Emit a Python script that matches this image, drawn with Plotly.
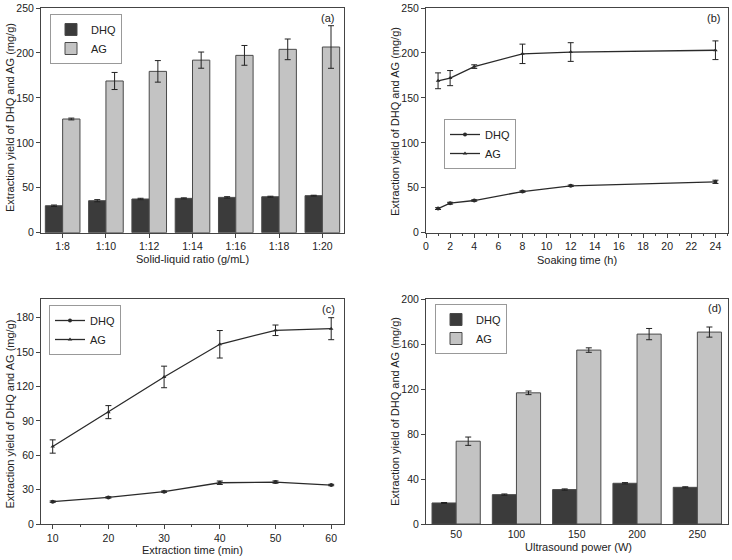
import plotly.graph_objects as go

# ---- data ----
ratio_labels = ["1:8", "1:10", "1:12", "1:14", "1:16", "1:18", "1:20"]
a_dhq = [30.0, 35.6, 37.5, 38.2, 39.3, 40.0, 41.2]
a_dhq_err = [0.8, 1.2, 0.8, 0.6, 0.8, 0.6, 0.5]
a_ag = [126.5, 168.8, 179.5, 192.0, 197.3, 204.0, 206.6]
a_ag_err = [1.0, 9.5, 12.0, 9.0, 11.0, 11.5, 23.7]

soak_time = [1, 2, 4, 8, 12, 24]
b_dhq = [26.8, 32.8, 35.8, 45.8, 52.2, 56.6]
b_dhq_err = [1.0, 1.0, 0.8, 0.8, 0.8, 1.8]
b_ag = [169.0, 172.0, 184.8, 199.0, 201.0, 203.0]
b_ag_err = [8.8, 8.4, 2.0, 10.8, 10.4, 10.4]

ext_time = [10, 20, 30, 40, 50, 60]
c_dhq = [19.5, 23.2, 28.2, 36.0, 36.6, 34.0]
c_dhq_err = [0.6, 0.6, 0.6, 1.5, 1.0, 0.6]
c_ag = [67.6, 97.6, 128.3, 156.8, 169.0, 170.4]
c_ag_err = [5.8, 5.7, 9.4, 12.0, 4.6, 9.6]

power_labels = ["50", "100", "150", "200", "250"]
d_dhq = [18.7, 26.1, 30.6, 36.2, 32.6]
d_dhq_err = [0.4, 0.6, 0.6, 0.6, 0.5]
d_ag = [73.6, 116.6, 154.6, 168.8, 170.6]
d_ag_err = [3.7, 1.6, 2.0, 5.0, 4.5]

y_title = "Extraction yield of DHQ and AG (mg/g)"
x_titles = ["Solid-liquid ratio (g/mL)", "Soaking time (h)", "Extraction time (min)", "Ultrasound power (W)"]
panel_tags = ["(a)", "(b)", "(c)", "(d)"]

DARK = "#3b3b3b"
LIGHT = "#c3c3c3"
EDGE = "#4a4a4a"
LINE = "#2a2a2a"
FONT = "Liberation Sans, Arial, sans-serif"

fig = go.Figure()

def err(vals):
    return dict(type="data", array=vals, visible=True, color="#222", thickness=1, width=3)

# (a) bars
fig.add_trace(go.Bar(x=ratio_labels, y=a_dhq, error_y=err(a_dhq_err), name="DHQ",
                     marker=dict(color=DARK, line=dict(color=EDGE, width=1)),
                     xaxis="x", yaxis="y", legend="legend"))
fig.add_trace(go.Bar(x=ratio_labels, y=a_ag, error_y=err(a_ag_err), name="AG",
                     marker=dict(color=LIGHT, line=dict(color=EDGE, width=1)),
                     xaxis="x", yaxis="y", legend="legend"))

# (b) lines
fig.add_trace(go.Scatter(x=soak_time, y=b_dhq, error_y=err(b_dhq_err), name="DHQ", mode="lines+markers",
                         line=dict(color=LINE, width=1.3), marker=dict(symbol="circle", size=4, color=LINE),
                         xaxis="x2", yaxis="y2", legend="legend2"))
fig.add_trace(go.Scatter(x=soak_time, y=b_ag, error_y=err(b_ag_err), name="AG", mode="lines+markers",
                         line=dict(color=LINE, width=1.3), marker=dict(symbol="triangle-up", size=4, color=LINE),
                         xaxis="x2", yaxis="y2", legend="legend2"))

# (c) lines
fig.add_trace(go.Scatter(x=ext_time, y=c_dhq, error_y=err(c_dhq_err), name="DHQ", mode="lines+markers",
                         line=dict(color=LINE, width=1.3), marker=dict(symbol="circle", size=4, color=LINE),
                         xaxis="x3", yaxis="y3", legend="legend3"))
fig.add_trace(go.Scatter(x=ext_time, y=c_ag, error_y=err(c_ag_err), name="AG", mode="lines+markers",
                         line=dict(color=LINE, width=1.3), marker=dict(symbol="triangle-up", size=4, color=LINE),
                         xaxis="x3", yaxis="y3", legend="legend3"))

# (d) bars
fig.add_trace(go.Bar(x=power_labels, y=d_dhq, error_y=err(d_dhq_err), name="DHQ",
                     marker=dict(color=DARK, line=dict(color=EDGE, width=1)),
                     xaxis="x4", yaxis="y4", legend="legend4"))
fig.add_trace(go.Bar(x=power_labels, y=d_ag, error_y=err(d_ag_err), name="AG",
                     marker=dict(color=LIGHT, line=dict(color=EDGE, width=1)),
                     xaxis="x4", yaxis="y4", legend="legend4"))

W, H = 732, 560
def px_x(p):
    return p / W
def px_y(p):
    return 1 - p / H

ax_common = dict(showline=True, linecolor="#444", linewidth=1, mirror=True,
                 ticks="outside", ticklen=4, tickwidth=1, tickcolor="#444",
                 showgrid=False, zeroline=False, automargin=False,
                 tickfont=dict(family=FONT, size=10.5, color="#222"))
txt_font = dict(family=FONT, size=11, color="#222")

dom_left = [px_x(41), px_x(344)]
dom_right = [px_x(426), px_x(727.5)]
dom_top = [px_y(232.7), px_y(8)]
dom_bot = [px_y(524), px_y(299)]

legend_common = dict(bgcolor="rgba(255,255,255,0)", bordercolor="#999", borderwidth=1,
                     font=dict(family=FONT, size=11, color="#222"),
                     xanchor="left", yanchor="top", tracegroupgap=0, itemwidth=30)

annotations = []
# y titles (rotated)
for (xp, yp) in [(10, 118), (395, 122), (9.5, 414), (395, 412)]:
    annotations.append(dict(text=y_title, textangle=-90, x=px_x(xp), y=px_y(yp),
                            xref="paper", yref="paper", xanchor="center", yanchor="middle",
                            showarrow=False, font=txt_font))
# x titles
for title, (xp, yp) in zip(x_titles, [(192, 259), (577, 260), (192, 550), (578, 547)]):
    annotations.append(dict(text=title, x=px_x(xp), y=px_y(yp), xref="paper", yref="paper",
                            xanchor="center", yanchor="middle", showarrow=False, font=txt_font))
# panel tags
for tag, (xp, yp) in zip(panel_tags, [(327, 18), (713, 18), (328, 309), (714, 308)]):
    annotations.append(dict(text=tag, x=px_x(xp), y=px_y(yp), xref="paper", yref="paper",
                            xanchor="center", yanchor="middle", showarrow=False, font=txt_font))

fig.update_layout(
    width=W, height=H,
    margin=dict(l=0, r=0, t=0, b=0, autoexpand=False),
    paper_bgcolor="white", plot_bgcolor="white",
    barmode="group", bargap=0.2, bargroupgap=0,
    font=dict(family=FONT, color="#222"),
    xaxis=dict(ax_common, domain=dom_left, anchor="y", range=[-0.5, 6.5]),
    yaxis=dict(ax_common, domain=dom_top, anchor="x", range=[0, 250], tickvals=[0, 50, 100, 150, 200, 250]),
    xaxis2=dict(ax_common, domain=dom_right, anchor="y2", range=[0, 25], tickvals=list(range(0, 25, 2)),
                minor=dict(ticks="outside", ticklen=2, dtick=1, tickcolor="#444")),
    yaxis2=dict(ax_common, domain=dom_top, anchor="x2", range=[0, 250], tickvals=[0, 50, 100, 150, 200, 250]),
    xaxis3=dict(ax_common, domain=dom_left, anchor="y3", range=[7.9, 62.3], tickvals=[10, 20, 30, 40, 50, 60],
                minor=dict(ticks="outside", ticklen=2, tickvals=[15, 25, 35, 45, 55], tickcolor="#444")),
    yaxis3=dict(ax_common, domain=dom_bot, anchor="x3", range=[0, 196.3], tickvals=[0, 30, 60, 90, 120, 150, 180]),
    xaxis4=dict(ax_common, domain=dom_right, anchor="y4", range=[-0.5, 4.5], ticks=""),
    yaxis4=dict(ax_common, domain=dom_bot, anchor="x4", range=[0, 200], tickvals=[0, 40, 80, 120, 160, 200]),
    legend=dict(legend_common, x=px_x(50), y=px_y(14)),
    legend2=dict(legend_common, x=px_x(444), y=px_y(119)),
    legend3=dict(legend_common, x=px_x(49), y=px_y(305)),
    legend4=dict(legend_common, x=px_x(435), y=px_y(304)),
    annotations=annotations,
)

fig.write_html("out.html", config={"displayModeBar": False},
               post_script="document.body.style.margin='0px';document.body.style.overflow='hidden';")
